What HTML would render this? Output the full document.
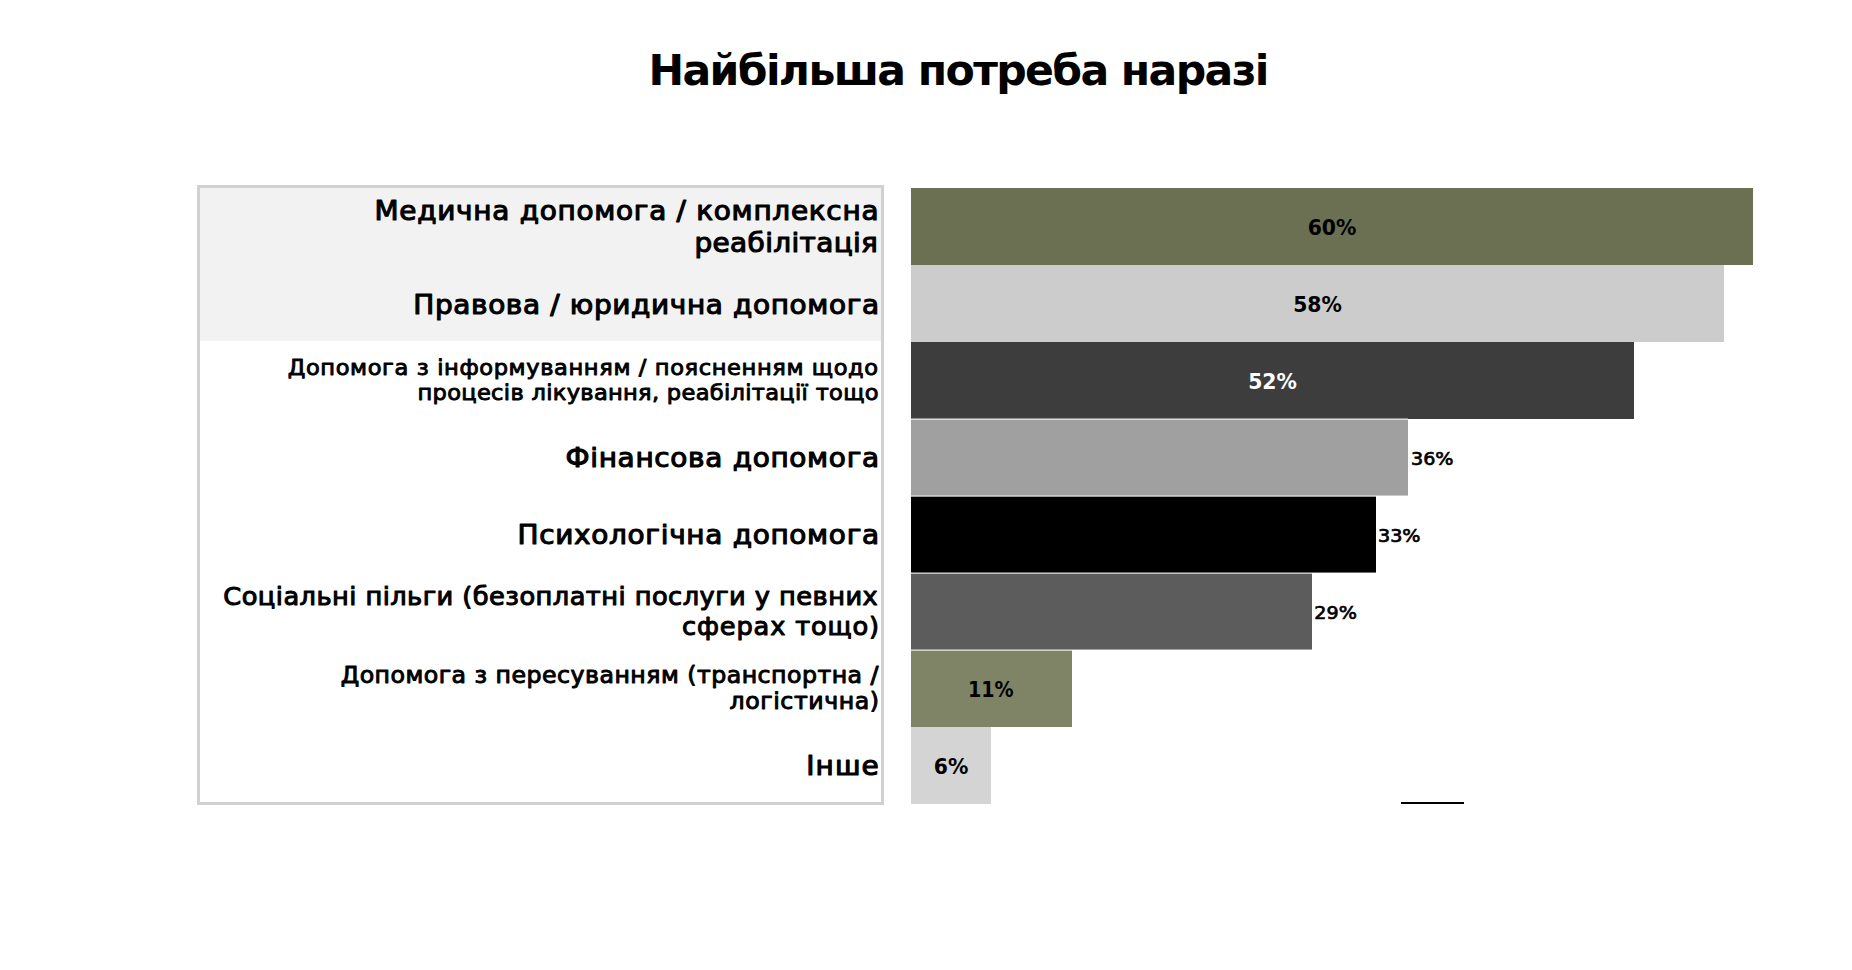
<!DOCTYPE html>
<html lang="uk"><head><meta charset="utf-8"><title>Найбільша потреба наразі</title>
<style>html,body{margin:0;padding:0;background:#fff}body{width:1852px;height:970px;overflow:hidden}svg{display:block}.l{font-family:'DejaVu Sans', 'Liberation Sans', sans-serif;fill:#000;stroke:#000;stroke-linejoin:round}.t{font-family:'DejaVu Sans', 'Liberation Sans', sans-serif;font-weight:700;fill:#000}.vb{font-family:'DejaVu Sans', 'Liberation Sans', sans-serif;font-weight:700}.vr{font-family:'DejaVu Sans', 'Liberation Sans', sans-serif;font-weight:400;stroke:#000;stroke-width:.7px}</style></head><body>
<svg width="1852" height="970" viewBox="0 0 1852 970">
<rect width="1852" height="970" fill="#fff"/>
<text class="t" x="958.90" y="85.00" font-size="42.6" text-anchor="middle" textLength="621.0" lengthAdjust="spacing">Найбільша потреба наразі</text>
<rect x="198.5" y="186.5" width="684" height="617" fill="#fff" stroke="#d0d1d0" stroke-width="3"/>
<rect x="200" y="188" width="681" height="153" fill="#f2f2f2"/>
<text class="l" transform="translate(878.50 220.00) scale(1.05 1)" font-size="26.60" stroke-width="1.12" text-anchor="end" textLength="480.0" lengthAdjust="spacing">Медична допомога / комплексна</text>
<text class="l" transform="translate(877.90 251.50) scale(1.05 1)" font-size="26.60" stroke-width="1.12" text-anchor="end" textLength="174.7" lengthAdjust="spacing">реабілітація</text>
<text class="l" transform="translate(879.10 313.50) scale(1.05 1)" font-size="26.60" stroke-width="1.12" text-anchor="end" textLength="443.6" lengthAdjust="spacing">Правова / юридична допомога</text>
<text class="l" transform="translate(878.10 374.80) scale(1.05 1)" font-size="21.47" stroke-width="0.90" text-anchor="end" textLength="562.3" lengthAdjust="spacing">Допомога з інформуванням / поясненням щодо</text>
<text class="l" transform="translate(878.50 400.10) scale(1.05 1)" font-size="21.47" stroke-width="0.90" text-anchor="end" textLength="439.0" lengthAdjust="spacing">процесів лікування, реабілітації тощо</text>
<text class="l" transform="translate(879.10 467.30) scale(1.05 1)" font-size="26.60" stroke-width="1.12" text-anchor="end" textLength="298.7" lengthAdjust="spacing">Фінансова допомога</text>
<text class="l" transform="translate(879.10 544.35) scale(1.05 1)" font-size="26.60" stroke-width="1.12" text-anchor="end" textLength="344.4" lengthAdjust="spacing">Психологічна допомога</text>
<text class="l" transform="translate(877.70 605.30) scale(1.05 1)" font-size="24.46" stroke-width="1.03" text-anchor="end" textLength="623.2" lengthAdjust="spacing">Соціальні пільги (безоплатні послуги у певних</text>
<text class="l" transform="translate(879.10 634.60) scale(1.05 1)" font-size="24.46" stroke-width="1.03" text-anchor="end" textLength="187.6" lengthAdjust="spacing">сферах тощо)</text>
<text class="l" transform="translate(878.50 682.50) scale(1.05 1)" font-size="22.52" stroke-width="0.95" text-anchor="end" textLength="512.2" lengthAdjust="spacing">Допомога з пересуванням (транспортна /</text>
<text class="l" transform="translate(879.10 709.20) scale(1.05 1)" font-size="22.52" stroke-width="0.95" text-anchor="end" textLength="142.5" lengthAdjust="spacing">логістична)</text>
<text class="l" transform="translate(878.70 774.50) scale(1.05 1)" font-size="26.60" stroke-width="1.12" text-anchor="end" textLength="69.0" lengthAdjust="spacing">Інше</text>
<rect x="911" y="188" width="842" height="77" fill="#6b7053"/>
<rect x="911" y="265" width="813" height="77" fill="#cccccc"/>
<rect x="911" y="342" width="723" height="77" fill="#3d3d3d"/>
<rect x="911" y="419" width="497" height="77" fill="#a0a0a0"/>
<rect x="911" y="496" width="465" height="77" fill="#000000"/>
<rect x="911" y="573" width="401" height="77" fill="#5c5c5c"/>
<rect x="911" y="650" width="161" height="77" fill="#7f8467"/>
<rect x="911" y="727" width="80" height="77" fill="#d4d4d4"/>
<rect x="911" y="418.3" width="497" height="1.7" fill="#fff" fill-opacity=".62"/>
<rect x="911" y="495.3" width="497" height="1.7" fill="#fff" fill-opacity=".62"/>
<rect x="911" y="572.3" width="465" height="1.7" fill="#fff" fill-opacity=".62"/>
<rect x="911" y="649.3" width="401" height="1.7" fill="#fff" fill-opacity=".62"/>
<text class="vb" transform="translate(1332.00 234.90) scale(0.96 1)" font-size="21.2" text-anchor="middle" fill="#000">60%</text>
<text class="vb" transform="translate(1317.50 311.90) scale(0.96 1)" font-size="21.2" text-anchor="middle" fill="#000">58%</text>
<text class="vb" transform="translate(1272.50 388.90) scale(0.96 1)" font-size="21.2" text-anchor="middle" fill="#fff">52%</text>
<text class="vr" transform="translate(1411.00 465.10) scale(1.07 1)" font-size="17.9" fill="#000">36%</text>
<text class="vr" transform="translate(1378.00 542.10) scale(1.07 1)" font-size="17.9" fill="#000">33%</text>
<text class="vr" transform="translate(1314.30 619.10) scale(1.07 1)" font-size="17.9" fill="#000">29%</text>
<text class="vb" transform="translate(990.70 696.90) scale(0.9 1)" font-size="21.2" text-anchor="middle" fill="#000">11%</text>
<text class="vb" transform="translate(951.00 773.90) scale(0.96 1)" font-size="21.2" text-anchor="middle" fill="#000">6%</text>
<rect x="1401" y="802" width="63" height="2" fill="#000"/>
</svg></body></html>
